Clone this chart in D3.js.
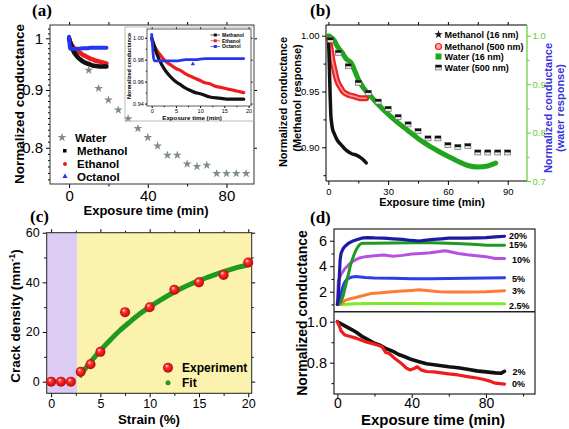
<!DOCTYPE html>
<html><head><meta charset="utf-8">
<script src="https://cdn.jsdelivr.net/npm/d3@7/dist/d3.min.js"></script>
<style>html,body{margin:0;padding:0;background:#fff;}svg{display:block;}</style>
</head><body>
<svg id="chart"></svg>
<script>
const SANS='"Liberation Sans", Arial, Helvetica, sans-serif';
const SERIF='"Liberation Serif", "Times New Roman", serif';

// ---------------- data ----------------
// (a) & (b): water response of the 500 nm film (stars in a, half squares in b)
const waterT=[1,5,10,15,20,25,30,35,40,45,50,55,60,65,70,75,80,85,90];
const waterV=[0.991,0.965,0.937,0.903,0.882,0.864,0.849,0.832,0.817,0.803,0.788,0.788,0.774,0.770,0.772,0.759,0.759,0.759,0.759];
// (a) alcohols (main plot + inset)
const methT=[0,0.5,1,2,3,4,5,6,7,8,9,10,12,14,16,18,19];
const methV=[1.0,0.993,0.986,0.976,0.969,0.964,0.960,0.957,0.954,0.952,0.950,0.949,0.946,0.945,0.944,0.944,0.944];
const ethT=[0,0.5,1,2,3,4,5,6,7,8,9,10,11,12,13,14,15,16,17,18,19];
const ethV=[0.998,0.993,0.989,0.983,0.978,0.975,0.972,0.970,0.967,0.965,0.963,0.961,0.959,0.958,0.956,0.955,0.954,0.953,0.952,0.951,0.950];
const octT=[0,0.15,0.3,0.5,1,3,5,7,9,11,13,15,17,19];
const octV=[1.003,0.995,0.985,0.979,0.979,0.979,0.979,0.980,0.980,0.981,0.981,0.981,0.981,0.981];
// (b)
const m16T=[0,0.3,0.6,0.9,1.2,1.6,2,3,4,5,6,7,8,10,12,14,16,18,19];
const m16V=[1.0,0.985,0.965,0.945,0.93,0.922,0.917,0.912,0.908,0.905,0.903,0.901,0.899,0.896,0.894,0.893,0.891,0.888,0.886];
const m500T=[0,0.5,1,2,3,4,5,6,7,8,9,10,12,14,16,18,19];
const m500V=[0.998,0.995,0.99,0.978,0.97,0.962,0.957,0.954,0.951,0.949,0.948,0.947,0.946,0.945,0.944,0.944,0.944];
const w16T=[0,1,2,3,4,5,6,7,8,9,10,11,12,13,14,15,16,18,20,25,30,35,40,45,50,55,60,65,70,75,80,84];
const w16V=[1.0,0.998,0.995,0.99,0.982,0.975,0.97,0.965,0.958,0.952,0.949,0.946,0.94,0.93,0.92,0.91,0.903,0.89,0.881,0.858,0.838,0.82,0.804,0.788,0.774,0.762,0.751,0.741,0.732,0.729,0.731,0.737];
// (c)
const strain=[0,1,2,3,4,5,7.5,10,12.5,15,17.5,20];
const crack=[0,0,0,4,7,12,28,30,37,40,43,48];
const fitX=[2.85,3,4,5,6,7,8,9,10,11,12,13,14,15,16,17,18,19,20];
const fitY=[2.0,2.8,7.9,12.6,16.8,20.7,24.1,27.3,30.1,32.6,35.0,37.1,39.0,40.7,42.2,43.6,44.9,46.1,47.1];
// (d) top (strain >= 2.5 %)
const s20T=[0,0.5,1,1.5,2,3,4,6,8,10,13,16,20,25,30,35,40,44,48,52,56,60,65,70,75,80,85,90];
const s20V=[1.0,1.5,3.0,4.5,5.0,5.35,5.55,5.8,5.95,6.05,6.2,6.25,6.22,6.2,6.15,6.1,6.02,5.98,6.05,6.1,6.15,6.2,6.2,6.2,6.22,6.25,6.3,6.35];
const s15T=[0,1,2,3,4,5,6,7,8,9,10,11,12,13,15,20,30,40,50,60,70,75,80,85,90];
const s15V=[1.0,1.05,1.25,1.6,2.2,2.8,3.4,4.05,4.5,4.9,5.25,5.5,5.7,5.78,5.8,5.8,5.82,5.85,5.85,5.8,5.75,5.7,5.65,5.65,5.65];
const s10T=[0,0.5,2,4,6,8,10,12,15,20,25,30,35,40,45,50,55,58,62,65,70,75,80,85,90];
const s10V=[1.0,2.8,3.35,3.8,4.1,4.35,4.52,4.65,4.75,4.82,4.88,4.78,4.85,4.95,5.0,5.05,5.15,5.22,5.1,5.0,4.9,4.82,4.75,4.6,4.6];
const s5T=[0,1,2,3,4,5,6,8,10,15,20,30,40,50,60,70,80,90];
const s5V=[1.0,1.3,1.9,2.4,2.75,2.95,3.05,3.15,3.2,3.12,3.08,3.05,3.02,3.02,3.03,3.05,3.07,3.1];
const s3T=[0,2,4,7,10,14,18,22,28,35,40,44,48,55,60,70,80,90];
const s3V=[1.0,1.05,1.3,1.45,1.55,1.7,1.85,1.9,1.98,2.05,2.1,2.15,2.1,2.0,1.97,1.97,2.0,2.08];
const s25T=[0,5,10,20,40,60,80,90];
const s25V=[0.98,1.02,1.05,1.08,1.08,1.06,1.05,1.05];
// (d) bottom (strain <= 2 %)
const s2T=[0,2,4,6,8,10,13,16,20,23,26,30,33,36,40,44,48,52,56,60,65,70,75,80,85,88,90];
const s2V=[1.0,0.99,0.98,0.97,0.96,0.95,0.93,0.915,0.895,0.885,0.87,0.855,0.84,0.83,0.815,0.805,0.795,0.79,0.785,0.78,0.775,0.768,0.76,0.755,0.75,0.748,0.758];
const s0T=[0,1,2,4,7,10,13,16,19,22,24,26,28,31,34,37,39,41,43,45,48,52,56,60,65,70,75,79,82,85,90];
const s0V=[1.0,0.98,0.955,0.935,0.928,0.92,0.91,0.9,0.893,0.885,0.878,0.85,0.845,0.82,0.8,0.775,0.765,0.77,0.78,0.765,0.757,0.755,0.75,0.745,0.74,0.732,0.725,0.718,0.71,0.7,0.695];

// ---------------- helpers ----------------
const svg=d3.select("#chart").attr("width",569).attr("height",429);
const defs=svg.append("defs");
const zip=(a,b)=>a.map((v,i)=>[v,b[i]]);

function A(g, orient, scale, vals, o){
  const gen=orient(scale).tickValues(vals).tickSizeInner(o.len ?? 4).tickSizeOuter(0)
    .tickPadding(o.pad ?? 3).tickFormat(o.fmt ? o.fmt : ()=>"");
  const a=g.append("g").attr("transform",`translate(${o.tx||0},${o.ty||0})`).call(gen);
  a.select(".domain").remove();
  a.selectAll(".tick line").attr("stroke",o.color||"#000").attr("stroke-width",o.sw||1);
  a.selectAll(".tick text").attr("font-size",o.fs||10).attr("font-family",SANS).attr("fill",o.tc||"#000");
  return a;
}
function T(g,x,y,s,o={}){
  return g.append("text").attr("x",x).attr("y",y).text(s)
   .attr("font-family",o.ff||SANS).attr("font-size",o.fs||12).attr("font-weight",o.fw||"bold")
   .attr("fill",o.c||"#000").attr("text-anchor",o.a||"start");
}
function V(g,cx,cy,s,o={}){ // vertical text centred on (cx,cy)
  const fs=o.fs||12;
  return g.append("text").attr("transform",`translate(${cx+0.36*fs},${cy}) rotate(-90)`).text(s)
   .attr("font-family",SANS).attr("font-size",fs).attr("font-weight",o.fw||"bold")
   .attr("fill",o.c||"#000").attr("text-anchor","middle");
}
function frame(g,x,y,o={}){
  const [x0,x1]=x.range(),[y0,y1]=y.range();
  g.append("rect").attr("x",x0).attr("y",y1).attr("width",x1-x0).attr("height",y0-y1)
   .attr("fill","none").attr("stroke",o.c||"#000").attr("stroke-width",o.sw||1);
}
function line(g,x,y,T_,V_,col,w,curve){
  g.append("path").datum(zip(T_,V_)).attr("fill","none").attr("stroke",col).attr("stroke-width",w)
   .attr("stroke-linejoin","round").attr("stroke-linecap","round")
   .attr("d",d3.line().x(d=>x(d[0])).y(d=>y(d[1])).curve(curve||d3.curveMonotoneX));
}

// ================= (a) =================
const gA=svg.append("g");
const xA=d3.scaleLinear().domain([-9.7,94]).range([50,254]);
const yA=d3.scaleLog().domain([0.743,1.0275]).range([184,25]);
const aMinorY=d3.range(75,103).map(v=>v/100).filter(v=>![0.8,0.9,1].includes(v));
A(gA,d3.axisBottom,xA,[0,40,80],{ty:184,fmt:d3.format("d"),fs:15,pad:2});
A(gA,d3.axisBottom,xA,[20,60],{ty:184,len:2.5});
A(gA,d3.axisTop,xA,[0,20,40,60,80],{ty:25,len:3});
A(gA,d3.axisLeft,yA,[0.8,0.9,1],{tx:50,fmt:v=>v===1?"1":v.toFixed(1),fs:15,pad:3});
A(gA,d3.axisLeft,yA,aMinorY,{tx:50,len:2});
A(gA,d3.axisRight,yA,[0.8,0.9,1],{tx:254,len:3});
frame(gA,xA,yA,{c:"#333"});
// alcohols in main plot
line(gA,xA,yA,ethT,ethV,"#ee1c1c",4.5);
line(gA,xA,yA,methT,methV,"#111",4.5);
line(gA,xA,yA,octT,octV,"#2436ee",4);
// water stars
const star=d3.symbol(d3.symbolStar,24);
gA.selectAll(".ws").data(zip(waterT,waterV).filter(d=>d[0]>=10)).join("path")
  .attr("transform",d=>`translate(${xA(d[0])},${yA(d[1])})`).attr("d",star()).attr("fill","#7d8c8c");
// legend
gA.append("path").attr("transform","translate(62,137.5)").attr("d",star()).attr("fill","#7d8c8c");
gA.append("rect").attr("x",63).attr("y",149).attr("width",3.5).attr("height",3.5).attr("fill","#000");
gA.append("circle").attr("cx",65).attr("cy",164).attr("r",2).attr("fill","#ee1c1c");
gA.append("path").attr("transform","translate(65,176.5)").attr("d",d3.symbol(d3.symbolTriangle,12)()).attr("fill","#2436ee");
T(gA,75,141.5,"Water",{fs:11.5});
T(gA,77,155,"Methanol",{fs:11.5});
T(gA,77,168.3,"Ethanol",{fs:11.5});
T(gA,77,181,"Octanol",{fs:11.5});
T(gA,146,215,"Exposure time (min)",{fs:13,a:"middle"});
V(gA,19,104,"Normalized conductance",{fs:13.5});
T(gA,32,16,"(a)",{ff:SERIF,fs:17});

// inset
const gI=svg.append("g");
gI.append("rect").attr("x",125).attr("y",27).attr("width",129).attr("height",94).attr("fill","none").attr("stroke","#aaa").attr("stroke-width",0.8);
const xI=d3.scaleLinear().domain([-0.97,20.5]).range([147,251]);
const yI=d3.scaleLinear().domain([0.9378,1.008]).range([106,29]);
A(gI,d3.axisBottom,xI,[0,5,10,15,20],{ty:106,fmt:d3.format("d"),fs:5.5,len:2,pad:0.8});
A(gI,d3.axisBottom,xI,[2.5,7.5,12.5,17.5],{ty:106,len:1.2});
A(gI,d3.axisLeft,yI,[0.94,0.96,0.98,1.0],{tx:147,fmt:d3.format(".2f"),fs:5.5,len:2,pad:1.2});
A(gI,d3.axisLeft,yI,[0.95,0.97,0.99],{tx:147,len:1.2});
A(gI,d3.axisTop,xI,[0,5,10,15,20],{ty:29,len:1.6});
A(gI,d3.axisRight,yI,[0.94,0.96,0.98,1.0],{tx:251,len:1.6});
frame(gI,xI,yI,{c:"#333",sw:0.8});
line(gI,xI,yI,ethT,ethV,"#ee1c1c",3.2);
line(gI,xI,yI,methT,methV,"#111",3.2);
line(gI,xI,yI,octT,octV,"#2436ee",2.8);
gI.append("path").attr("transform",`translate(${xI(8.5)},${yI(0.976)})`).attr("d",d3.symbol(d3.symbolTriangle,8)()).attr("fill","#2436ee");
[["Methanol","#111",35],["Ethanol","#ee1c1c",40.8],["Octanol","#2436ee",46.5]].forEach(([n,c,y])=>{
  gI.append("line").attr("x1",210.5).attr("x2",220).attr("y1",y).attr("y2",y).attr("stroke",c).attr("stroke-width",0.7);
  gI.append("rect").attr("x",213.8).attr("y",y-1.5).attr("width",3).attr("height",3).attr("fill",c);
  T(gI,222,y+1.8,n,{fs:5});
});
T(gI,192,119.5,"Exposure time (min)",{fs:6.2,a:"middle"});
V(gI,128.5,66,"Normalized conductance",{fs:5.6});

// ================= (b) =================
const gB=svg.append("g");
const xB=d3.scaleLinear().domain([-1.2,99.7]).range([326,527]);
const yBL=d3.scaleLinear().domain([0.8698,1.0096]).range([181,25]);
const yBR=d3.scaleLinear().domain([0.7,1.0223]).range([181,25]);
const GREEN_AX="#66cc33";
A(gB,d3.axisBottom,xB,[0,30,60,90],{ty:181,fmt:d3.format("d"),fs:9.5,pad:3});
A(gB,d3.axisBottom,xB,[15,45,75],{ty:181,len:2.5});
A(gB,d3.axisTop,xB,[0,15,30,45,60,75,90],{ty:25,len:3});
A(gB,d3.axisLeft,yBL,[0.90,0.95,1.00],{tx:326,fmt:d3.format(".2f"),fs:9.5,pad:2.5});
A(gB,d3.axisLeft,yBL,[0.875,0.925,0.975],{tx:326,len:2.5});
gB.append("path").attr("d",`M527,25H326V181H527`).attr("fill","none").attr("stroke","#000").attr("stroke-width",1);
gB.append("line").attr("x1",527).attr("x2",527).attr("y1",25).attr("y2",181).attr("stroke",GREEN_AX).attr("stroke-width",1.2);
A(gB,d3.axisRight,yBR,[0.7,0.8,0.9,1.0],{tx:527,fmt:d3.format(".1f"),fs:9.5,pad:1.5,color:GREEN_AX,tc:GREEN_AX});
A(gB,d3.axisRight,yBR,[0.75,0.85,0.95],{tx:527,len:2.5,color:GREEN_AX});
line(gB,xB,yBL,m500T,m500V,"#ee2222",6);
line(gB,xB,yBL,m500T,m500V,"#ff9a9a",1.6);
line(gB,xB,yBL,m16T,m16V,"#111",3.5);
line(gB,xB,yBR,w16T,w16V,"#22a51e",5);
const hs=gB.selectAll(".hs").data(zip(waterT,waterV)).join("g")
  .attr("transform",d=>`translate(${xB(d[0])},${yBR(d[1])})`);
hs.append("rect").attr("x",-3).attr("y",-2.5).attr("width",6).attr("height",5).attr("fill","#e8e8e8").attr("stroke","#555").attr("stroke-width",0.6);
hs.append("rect").attr("x",-3).attr("y",-2.5).attr("width",6).attr("height",2.5).attr("fill","#111");
// legend (b)
gB.append("path").attr("transform","translate(438.5,34.5)").attr("d",d3.symbol(d3.symbolStar,22)()).attr("fill","#111");
gB.append("circle").attr("cx",438.5).attr("cy",46.5).attr("r",3).attr("fill","#ffaaaa").attr("stroke","#ee2222").attr("stroke-width",1.2);
gB.append("rect").attr("x",435.5).attr("y",53.5).attr("width",6).attr("height",6).attr("fill","#22a51e");
const lg=gB.append("g").attr("transform","translate(438.5,67.5)");
lg.append("rect").attr("x",-3).attr("y",-2.5).attr("width",6).attr("height",5).attr("fill","#e8e8e8").attr("stroke","#555").attr("stroke-width",0.6);
lg.append("rect").attr("x",-3).attr("y",-2.5).attr("width",6).attr("height",2.5).attr("fill","#111");
T(gB,444.5,37.8,"Methanol (16 nm)",{fs:9});
T(gB,444.5,49.8,"Methanol (500 nm)",{fs:9});
T(gB,444.5,60,"Water (16 nm)",{fs:9});
T(gB,444.5,71,"Water (500 nm)",{fs:9});
T(gB,432,206,"Exposure time (min)",{fs:11,a:"middle"});
V(gB,283,102,"Normalized conductance",{fs:11});
V(gB,297,98,"(Methanol response)",{fs:11});
V(gB,548,108,"Normalized conductance",{fs:11,c:"#3535dd"});
V(gB,560,108,"(water response)",{fs:11,c:"#3535dd"});
T(gB,310,16,"(b)",{ff:SERIF,fs:17});

// ================= (c) =================
const gC=svg.append("g");
const xC=d3.scaleLinear().domain([-0.45,20.35]).range([46.7,251.7]);
const yC=d3.scaleLinear().domain([-4.7,60]).range([393.3,232.7]);
gC.append("rect").attr("x",xC(-0.45)).attr("y",232.7).attr("width",xC(2.65)-xC(-0.45)).attr("height",393.3-232.7).attr("fill","#dccbf3");
gC.append("rect").attr("x",xC(2.65)).attr("y",232.7).attr("width",xC(20.35)-xC(2.65)).attr("height",393.3-232.7).attr("fill","#fbf3ad");
A(gC,d3.axisBottom,xC,[0,5,10,15,20],{ty:393.3,fmt:d3.format("d"),fs:12.5,pad:1.5});
A(gC,d3.axisBottom,xC,[2.5,7.5,12.5,17.5],{ty:393.3,len:2.5});
A(gC,d3.axisTop,xC,[0,5,10,15,20],{ty:232.7,len:3.5});
A(gC,d3.axisTop,xC,[2.5,7.5,12.5,17.5],{ty:232.7,len:2});
A(gC,d3.axisLeft,yC,[0,20,40,60],{tx:46.7,fmt:d3.format("d"),fs:12.5,pad:3});
A(gC,d3.axisLeft,yC,[10,30,50],{tx:46.7,len:2.5});
A(gC,d3.axisRight,yC,[0,20,40,60],{tx:251.7,len:3.5});
A(gC,d3.axisRight,yC,[10,30,50],{tx:251.7,len:2});
frame(gC,xC,yC,{c:"#222"});
gC.append("path").datum(zip(fitX,fitY)).attr("fill","none").attr("stroke","#1f9a1f").attr("stroke-width",5)
  .attr("d",d3.line().x(d=>xC(d[0])).y(d=>yC(d[1])).curve(d3.curveMonotoneX));
const rg=defs.append("radialGradient").attr("id","ball").attr("cx","50%").attr("cy","50%").attr("r","55%").attr("fx","35%").attr("fy","30%");
rg.append("stop").attr("offset","0%").attr("stop-color","#ffe0e0");
rg.append("stop").attr("offset","35%").attr("stop-color","#ff3030");
rg.append("stop").attr("offset","100%").attr("stop-color","#b50000");
gC.selectAll(".ball").data(zip(strain,crack)).join("circle")
  .attr("cx",d=>xC(d[0])).attr("cy",d=>yC(d[1])).attr("r",5).attr("fill","url(#ball)");
gC.append("circle").attr("cx",168).attr("cy",367.7).attr("r",5).attr("fill","url(#ball)");
gC.append("circle").attr("cx",168).attr("cy",382.7).attr("r",2.5).attr("fill","#1f9a1f");
T(gC,182,372,"Experiment",{fs:12});
T(gC,182,387,"Fit",{fs:12});
T(gC,149,423.5,"Strain (%)",{fs:13.3,a:"middle"});
const cy=gC.append("text").attr("transform",`translate(${15+0.36*13.5},316) rotate(-90)`)
  .attr("font-family",SANS).attr("font-size",13.5).attr("font-weight","bold").attr("text-anchor","middle");
cy.append("tspan").text("Crack density (mm");
cy.append("tspan").text("-1").attr("font-size",9).attr("dy",-5);
cy.append("tspan").text(")").attr("dy",5);
T(gC,30,222,"(c)",{ff:SERIF,fs:17});

// ================= (d) =================
const gD=svg.append("g");
const xD=d3.scaleLinear().domain([-1.8,106.4]).range([334,535]);
const yDT=d3.scaleLinear().domain([0.43,6.92]).range([311.7,229]);
const yDB=d3.scaleLinear().domain([0.647,1.049]).range([394,311.7]);
A(gD,d3.axisBottom,xD,[0,40,80],{ty:394,fmt:d3.format("d"),fs:14,pad:0.5});
A(gD,d3.axisBottom,xD,[20,60,100],{ty:394,len:2.5});
A(gD,d3.axisLeft,yDT,[2,4,6],{tx:334,fmt:d3.format("d"),fs:14.5,pad:3});
A(gD,d3.axisLeft,yDT,[1,3,5],{tx:334,len:2.5});
A(gD,d3.axisLeft,yDB,[0.8,1.0],{tx:334,fmt:d3.format(".1f"),fs:14.5,pad:3});
A(gD,d3.axisLeft,yDB,[0.7,0.9],{tx:334,len:2.5});
gD.append("rect").attr("x",334).attr("y",229).attr("width",201).attr("height",165).attr("fill","none").attr("stroke","#222").attr("stroke-width",1.2);
gD.append("line").attr("x1",334).attr("x2",535).attr("y1",311.7).attr("y2",311.7).attr("stroke","#222").attr("stroke-width",1.6);
const LIN=d3.curveLinear;
line(gD,xD,yDT,s25T,s25V,"#7ee82a",3,LIN);
line(gD,xD,yDT,s3T,s3V,"#ff7a35",3,LIN);
line(gD,xD,yDT,s5T,s5V,"#2e3ee6",3,LIN);
line(gD,xD,yDT,s10T,s10V,"#b451e0",3,LIN);
line(gD,xD,yDT,s15T,s15V,"#1f9a1f",3,LIN);
line(gD,xD,yDT,s20T,s20V,"#1b1ba3",3.2,LIN);
line(gD,xD,yDB,s2T,s2V,"#111",3.6,LIN);
line(gD,xD,yDB,s0T,s0V,"#ee1c1c",3.2,LIN);
[["20%",509,239],["15%",509,248],["10%",512,263],["5%",512,282],["3%",512,294],["2.5%",509,308.5],["2%",512.5,375],["0%",512,387]]
  .forEach(([s,x,y])=>T(gD,x,y,s,{fs:9}));
T(gD,433,424.5,"Exposure time (min)",{fs:15,a:"middle"});
V(gD,302,313,"Normalized conductance",{fs:14});
T(gD,310,223,"(d)",{ff:SERIF,fs:17});
</script>
</body></html>
